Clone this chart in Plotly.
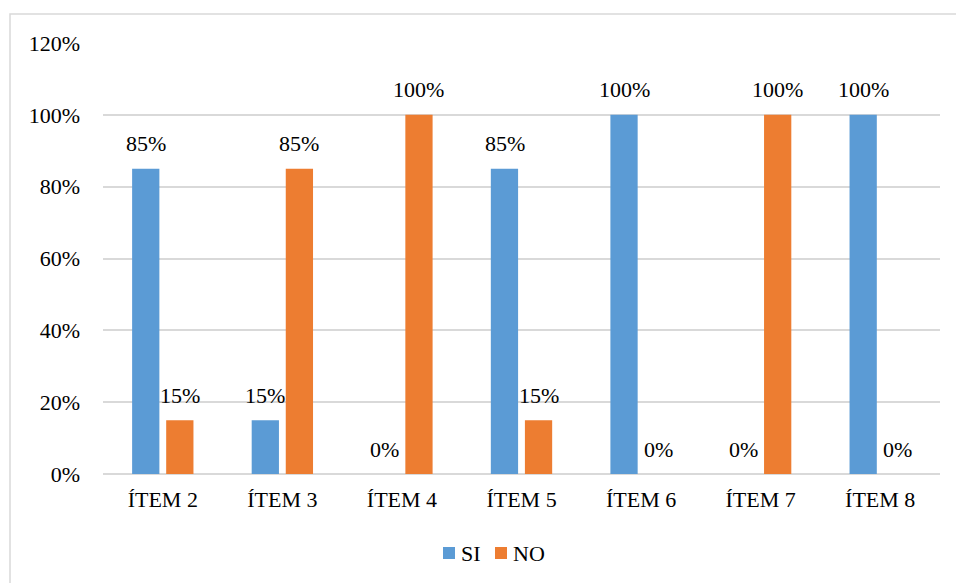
import plotly.graph_objects as go

items = ["ÍTEM 2", "ÍTEM 3", "ÍTEM 4", "ÍTEM 5", "ÍTEM 6", "ÍTEM 7", "ÍTEM 8"]
si_values = [0.85, 0.15, 0.0, 0.85, 1.0, 0.0, 1.0]
no_values = [0.15, 0.85, 1.0, 0.15, 0.0, 1.0, 0.0]
y_ticks = [0, 0.2, 0.4, 0.6, 0.8, 1.0, 1.2]
y_tick_labels = ["0%", "20%", "40%", "60%", "80%", "100%", "120%"]

FONT = "'Liberation Serif', 'Times New Roman', Times, serif"
SIZE = 22
BLUE = "#5B9BD5"
ORANGE = "#ED7D31"
GRID = "#D9D9D9"

W, H = 956, 583
ML, MR, MT, MB = 103, 16, 43, 109
PW, PH = W - ML - MR, H - MT - MB


def px_x(x):
    """Pixel column -> paper x."""
    return (x - ML) / PW


def px_y(y):
    """Pixel row -> paper y."""
    return (H - MB - y) / PH


fig = go.Figure()
series = [("SI", si_values, BLUE, -17), ("NO", no_values, ORANGE, 17)]
for name, vals, color, _ in series:
    fig.add_trace(go.Bar(
        name=name, x=items, y=vals, marker_color=color, marker_line_width=0,
        showlegend=False,
    ))

# value labels above each bar
annotations = []
for name, vals, color, dx in series:
    for cat, v in zip(items, vals):
        annotations.append(dict(
            x=cat, y=v, xref="x", yref="y", text=f"{v:.0%}", showarrow=False,
            xshift=dx, yshift=25, yanchor="middle", xanchor="center",
            font=dict(family=FONT, size=SIZE, color="#000000"),
        ))

# compact legend below the plot: colour square followed by its name
shapes = [dict(type="rect", xref="paper", yref="paper",
               x0=px_x(10), x1=1.2, y0=-0.4, y1=px_y(14),
               line=dict(color=GRID, width=1.5), fillcolor="rgba(0,0,0,0)", layer="below")]
legend_x = [443, 495]
for (name, _, color, _), lx in zip(series, legend_x):
    shapes.append(dict(type="rect", xref="paper", yref="paper",
                       x0=px_x(lx), x1=px_x(lx + 12), y0=px_y(559), y1=px_y(547),
                       line=dict(width=0), fillcolor=color))
    annotations.append(dict(x=px_x(lx + 16), y=px_y(553), xref="paper", yref="paper",
                            text=name, showarrow=False, xanchor="left", yanchor="middle",
                            font=dict(family=FONT, size=SIZE, color="#000000")))

fig.update_layout(
    width=W, height=H,
    margin=dict(l=ML, r=MR, t=MT, b=MB),
    paper_bgcolor="white", plot_bgcolor="white",
    barmode="group", bargap=0.43, bargroupgap=0.2,
    font=dict(family=FONT, size=SIZE, color="#000000"),
    showlegend=False,
    xaxis=dict(showgrid=False, showline=False, ticks="", ticklabelstandoff=10,
               tickfont=dict(family=FONT, size=SIZE)),
    yaxis=dict(range=[0, 1.2], tickvals=y_ticks, ticktext=y_tick_labels,
               showgrid=True, gridcolor=GRID, gridwidth=1.5, zeroline=True,
               zerolinecolor=GRID, zerolinewidth=1.5, showline=False, ticks="",
               ticklabelstandoff=22, tickfont=dict(family=FONT, size=SIZE)),
    annotations=annotations,
    shapes=shapes,
)

fig.write_html("out.html")
